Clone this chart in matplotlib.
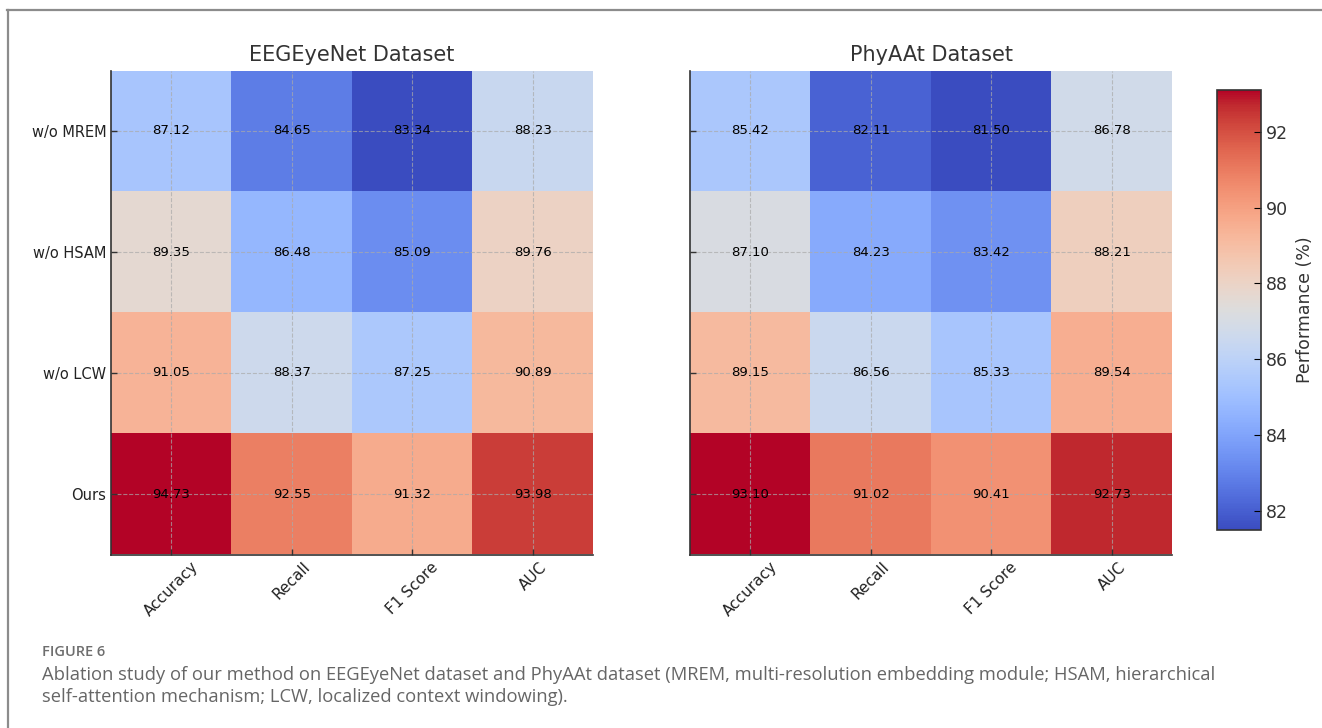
import numpy as np
import matplotlib
matplotlib.use("Agg")
import matplotlib.pyplot as plt
from matplotlib.lines import Line2D

# Ablation results (%)
variants = ["w/o MREM", "w/o HSAM", "w/o LCW", "Ours"]
metrics = ["Accuracy", "Recall", "F1 Score", "AUC"]

eegeyenet = [
    [87.12, 84.65, 83.34, 88.23],
    [89.35, 86.48, 85.09, 89.76],
    [91.05, 88.37, 87.25, 90.89],
    [94.73, 92.55, 91.32, 93.98],
]
phyaat = [
    [85.42, 82.11, 81.50, 86.78],
    [87.10, 84.23, 83.42, 88.21],
    [89.15, 86.56, 85.33, 89.54],
    [93.10, 91.02, 90.41, 92.73],
]
titles = ["EEGEyeNet Dataset", "PhyAAt Dataset"]

W, H = 1322, 728
fig = plt.figure(figsize=(W / 100, H / 100), dpi=100)


def fx(px):
    return px / W


def fy(py):
    return 1 - py / H


axes_px = [(111, 70.5, 593, 554.5), (690, 70.5, 1172, 554.5)]
images = []
for k, (data, title) in enumerate(zip([eegeyenet, phyaat], titles)):
    x0, y0, x1, y1 = axes_px[k]
    ax = fig.add_axes([fx(x0), fy(y1), fx(x1 - x0), (y1 - y0) / H])
    arr = np.array(data)
    im = ax.imshow(arr, cmap="coolwarm", aspect="auto")
    images.append(im)
    for i in range(arr.shape[0]):
        for j in range(arr.shape[1]):
            ax.text(j, i, f"{arr[i, j]:.2f}", ha="center", va="center",
                    fontsize=9.5, color="black")
    ax.set_xticks(range(len(metrics)))
    ax.set_xticklabels(metrics, rotation=45, fontsize=11, color="#222222")
    ax.set_yticks(range(len(variants)))
    if k == 0:
        ax.set_yticklabels(variants, fontsize=10.5, color="#222222")
    else:
        ax.set_yticklabels([])
    ax.tick_params(direction="in", length=4, width=1, color="#333333")
    ax.grid(True, linestyle="--", color="#aaaaaa", linewidth=0.8, alpha=0.7)
    for side in ["top", "right"]:
        ax.spines[side].set_visible(False)
    for side in ["left", "bottom"]:
        ax.spines[side].set_color("#333333")
        ax.spines[side].set_linewidth(1.2)
    ax.set_title(title, fontsize=15, color="#333333", pad=7)

cax = fig.add_axes([fx(1217), fy(530), fx(44), 440 / H])
cb = fig.colorbar(images[1], cax=cax)
cb.set_label("Performance (%)", fontsize=12.5, color="#333333", labelpad=6)
cb.ax.tick_params(direction="in", length=5, labelsize=12.5, labelcolor="#333333")
cb.outline.set_linewidth(1.2)
cb.outline.set_edgecolor("#333333")

# panel frame
fig.add_artist(Line2D([fx(7), 1], [fy(10), fy(10)], color="#8c8c8c", lw=1.6,
                      transform=fig.transFigure))
fig.add_artist(Line2D([fx(8), fx(8)], [fy(10), 0], color="#8c8c8c", lw=1.6,
                      transform=fig.transFigure))

# caption
cap_font = ["Open Sans", "DejaVu Sans"]
fig.text(fx(42), fy(652), "FIGURE 6", fontsize=10.5, color="#6e6e6e",
         fontweight="semibold", family=cap_font, va="center")
fig.text(fx(42), fy(675),
         "Ablation study of our method on EEGEyeNet dataset and PhyAAt dataset "
         "(MREM, multi-resolution embedding module; HSAM, hierarchical",
         fontsize=13.2, color="#666666", family=cap_font, va="center")
fig.text(fx(42), fy(697),
         "self-attention mechanism; LCW, localized context windowing).",
         fontsize=13.2, color="#666666", family=cap_font, va="center")

fig.savefig("out.png", dpi=100)
